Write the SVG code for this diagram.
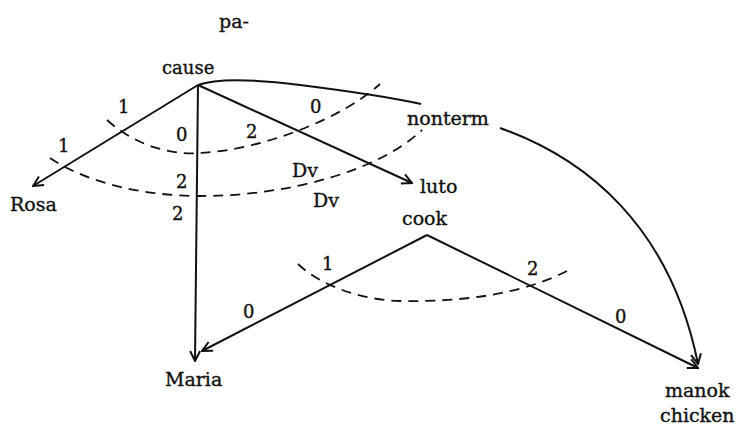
<svg xmlns="http://www.w3.org/2000/svg" width="742" height="431" viewBox="0 0 742 431">
<style>
.lbl{font-family:"DejaVu Serif","Liberation Serif",serif;font-size:19px;fill:#111;stroke:#111;stroke-width:0.35}
.num{font-family:"DejaVu Serif","Liberation Serif",serif;font-size:18px;fill:#111;stroke:#111;stroke-width:0.35}
.edge{fill:none;stroke:#111;stroke-width:2}
.dash{fill:none;stroke:#111;stroke-width:1.8;stroke-dasharray:10,7}
</style>
<defs>
<marker id="arr" viewBox="0 0 12 12" refX="11" refY="6" markerWidth="12" markerHeight="12" markerUnits="userSpaceOnUse" orient="auto">
<path d="M1,1 L11,6 L1,11" fill="none" stroke="#111" stroke-width="2"/>
</marker>
</defs>
<rect width="742" height="431" fill="#fff"/>
<g id="connectors">
<line class="edge" x1="198" y1="85" x2="33" y2="186" marker-end="url(#arr)"/>
<line class="edge" x1="198" y1="85" x2="195" y2="361" marker-end="url(#arr)"/>
<line class="edge" x1="198" y1="85" x2="412" y2="183" marker-end="url(#arr)"/>
<path class="edge" d="M198,85 C220,77 260,80 300,85 S380,95 421,104"/>
<path class="edge" d="M500,128 C585,158 670,225 698,364" marker-end="url(#arr)"/>
<line class="edge" x1="427" y1="235" x2="202" y2="351" marker-end="url(#arr)"/>
<line class="edge" x1="427" y1="235" x2="698" y2="368" marker-end="url(#arr)"/>
<path class="dash" d="M107,120 C140,150 180,155 200,153 C260,150 340,120 380,84"/>
<path class="dash" d="M50,158 C90,185 150,196 200,196 C290,196 380,170 422,130"/>
<path class="dash" d="M298,264 C320,285 360,300 400,301 C460,302 520,295 567,271"/>
</g>
<g id="pa"><text class="lbl" x="219" y="28">pa-</text></g>
<g id="cause"><text class="lbl" x="162" y="74" style="font-size:18px">cause</text></g>
<g id="rosa"><text class="lbl" x="10" y="211">Rosa</text></g>
<g id="maria"><text class="lbl" x="165" y="386">Maria</text></g>
<g id="luto"><text class="lbl" x="420" y="193">luto</text></g>
<g id="cook"><text class="lbl" x="402" y="225">cook</text></g>
<g id="nonterm"><text class="lbl" x="407" y="125">nonterm</text></g>
<g id="manok"><text class="lbl" x="665" y="397">manok</text><text class="lbl" x="660" y="422">chicken</text></g>
<g id="edge-labels">
<text class="num" x="118" y="113">1</text>
<text class="num" x="58" y="152">1</text>
<text class="num" x="176" y="141">0</text>
<text class="num" x="176" y="188">2</text>
<text class="num" x="172" y="220">2</text>
<text class="num" x="246" y="138">2</text>
<text class="num" x="310" y="113">0</text>
<text class="lbl" x="292" y="177">Dv</text>
<text class="lbl" x="313" y="207">Dv</text>
<text class="num" x="322" y="270">1</text>
<text class="num" x="243" y="318">0</text>
<text class="num" x="527" y="275">2</text>
<text class="num" x="615" y="323">0</text>
</g>
</svg>
